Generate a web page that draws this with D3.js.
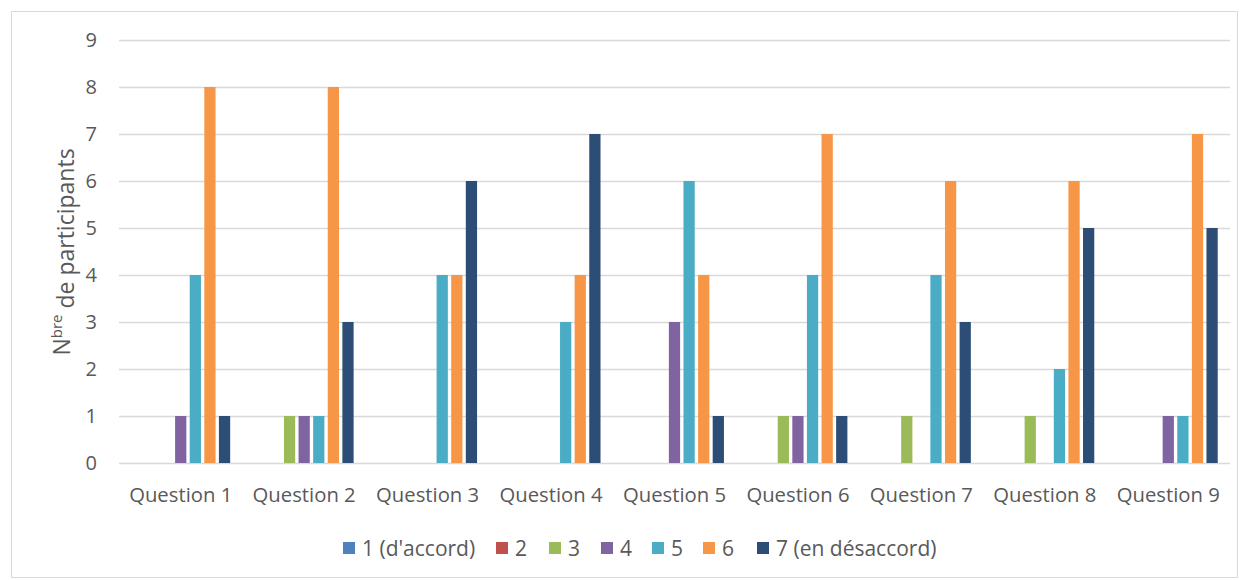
<!DOCTYPE html>
<html>
<head>
<meta charset="utf-8">
<script src="https://cdn.jsdelivr.net/npm/d3@7"></script>
<style>
  body { margin: 0; background: #fff; }
  text { font-family: "Open Sans", sans-serif; fill: #595959; }
</style>
</head>
<body>
<div id="canvas"></div>
<script>
// categories and series
var questions = ['Question 1', 'Question 2', 'Question 3', 'Question 4', 'Question 5',
                 'Question 6', 'Question 7', 'Question 8', 'Question 9'];
var seriesNames = ["1 (d'accord)", '2', '3', '4', '5', '6', '7 (en désaccord)'];
var seriesColors = ['#4F81BD', '#C0504D', '#9BBB59', '#8064A2', '#4BACC6', '#F79646', '#2C4D75'];
var yTicks = [0, 1, 2, 3, 4, 5, 6, 7, 8, 9];

// one array per answer, one value per question
var s1 = [0, 0, 0, 0, 0, 0, 0, 0, 0];
var s2 = [0, 0, 0, 0, 0, 0, 0, 0, 0];
var s3 = [0, 1, 0, 0, 0, 1, 1, 1, 0];
var s4 = [1, 1, 0, 0, 3, 1, 0, 0, 1];
var s5 = [4, 1, 4, 3, 6, 4, 4, 2, 1];
var s6 = [8, 8, 4, 4, 4, 7, 6, 6, 7];
var s7 = [1, 3, 6, 7, 1, 1, 3, 5, 5];
var seriesValues = [s1, s2, s3, s4, s5, s6, s7];

var width = 1248, height = 580;
var svg = d3.select('#canvas').append('svg')
  .attr('width', width)
  .attr('height', height);

// chart border
svg.append('rect')
  .attr('x', 11.5).attr('y', 11.5)
  .attr('width', 1226).attr('height', 566)
  .attr('fill', 'none')
  .attr('stroke', '#d9d9d9');

var plotLeft = 119, plotRight = 1230, plotTop = 40, plotBottom = 463;

var x0 = d3.scaleBand().domain(questions).range([plotLeft, plotRight]);
var x1 = d3.scaleBand().domain(d3.range(seriesNames.length))
  .range([10.6, x0.bandwidth() - 10.6]).paddingInner(0.23).paddingOuter(0.115);
var y = d3.scaleLinear().domain([0, 9]).range([plotBottom, plotTop]);

// gridlines
svg.append('g').selectAll('line').data(yTicks)
  .enter().append('line')
  .attr('x1', plotLeft).attr('x2', plotRight)
  .attr('y1', function (d) { return y(d) + 0.5; })
  .attr('y2', function (d) { return y(d) + 0.5; })
  .attr('stroke', '#d9d9d9')
  .attr('stroke-width', 1.3);

// y tick labels
svg.append('g').selectAll('text').data(yTicks)
  .enter().append('text')
  .attr('x', 97)
  .attr('y', function (d) { return y(d); })
  .attr('dy', '0.36em')
  .attr('text-anchor', 'end')
  .style('font-size', '20px')
  .text(function (d) { return d; });

// bars
var groups = svg.append('g').selectAll('g').data(questions)
  .enter().append('g')
  .attr('transform', function (d) { return 'translate(' + x0(d) + ',0)'; });

groups.selectAll('rect')
  .data(function (q, qi) {
    return seriesValues.map(function (vals, si) { return { s: si, v: vals[qi] }; });
  })
  .enter().append('rect')
  .filter(function (d) { return d.v > 0; })
  .attr('x', function (d) { return x1(d.s); })
  .attr('width', x1.bandwidth())
  .attr('y', function (d) { return y(d.v); })
  .attr('height', function (d) { return y(0) - y(d.v); })
  .attr('fill', function (d) { return seriesColors[d.s]; });

// x labels
svg.append('g').selectAll('text').data(questions)
  .enter().append('text')
  .attr('x', function (d) { return x0(d) + x0.bandwidth() / 2; })
  .attr('y', 502)
  .attr('text-anchor', 'middle')
  .style('font-size', '20.3px')
  .text(function (d) { return d; });

// y axis title
var yt = svg.append('text')
  .attr('transform', 'translate(70,252) rotate(-90)')
  .attr('text-anchor', 'middle')
  .style('font-size', '23px');
yt.append('tspan').text('N');
yt.append('tspan').attr('dy', '-0.55em').style('font-size', '15px').text('bre');
yt.append('tspan').attr('dy', '0.55em').text(' de participants');

// legend
var legendX = [343, 496, 549, 601, 652, 703, 757];
var legend = svg.append('g').selectAll('g').data(seriesNames)
  .enter().append('g')
  .attr('transform', function (d, i) { return 'translate(' + legendX[i] + ',548)'; });
legend.append('rect')
  .attr('x', 0).attr('y', -6)
  .attr('width', 12).attr('height', 12)
  .attr('fill', function (d, i) { return seriesColors[i]; });
legend.append('text')
  .attr('x', 19).attr('dy', '0.36em')
  .style('font-size', '21px')
  .text(function (d) { return d; });
</script>
</body>
</html>
